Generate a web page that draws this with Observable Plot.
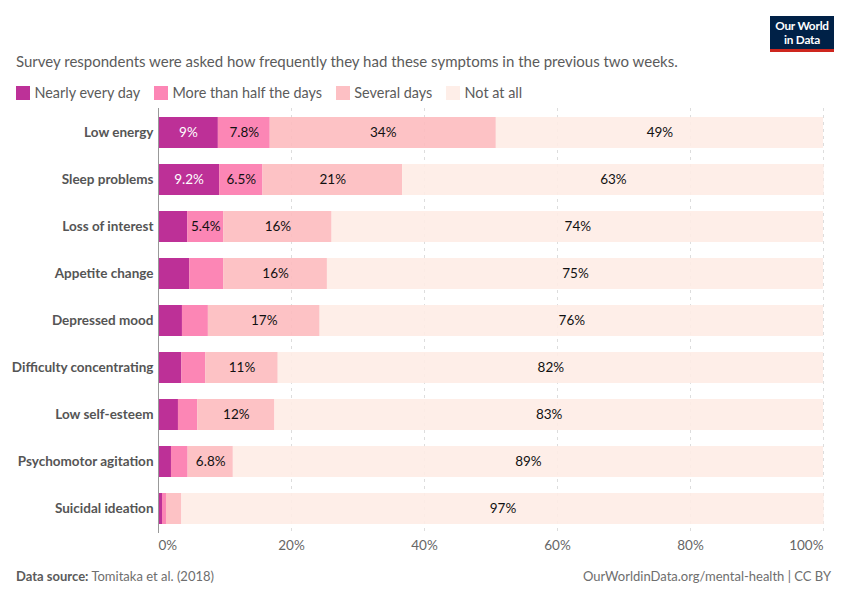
<!DOCTYPE html>
<html>
<head>
<meta charset="utf-8">
<script src="https://cdn.jsdelivr.net/npm/d3@7"></script>
<script src="https://cdn.jsdelivr.net/npm/@observablehq/plot@0.6"></script>
<style>
  body { margin: 0; background: #fff; font-family: Lato, sans-serif; width: 850px; height: 600px; position: relative; overflow: hidden; }
  #chart { position: absolute; left: 0; top: 100px; }
  #chart svg { font-family: Lato, sans-serif; }
  .logo { position: absolute; left: 770px; top: 16px; width: 64px; height: 33px; background: #002147; border-bottom: 3px solid #ce261e; color: #fff; font-weight: 700; font-size: 11.8px; text-align: center; letter-spacing: -0.2px; }
  .logo div { position: absolute; left: 0; right: 0; line-height: 14px; height: 14px; }
  .sub { position: absolute; left: 16px; top: 51px; font-size: 15px; color: #5b5b5b; line-height: 20px; white-space: nowrap; }
  .legend { position: absolute; left: 16px; top: 83px; display: flex; font-size: 14.4px; color: #5b5b5b; line-height: 19px; white-space: nowrap; }
  .legend span.item { display: flex; align-items: center; margin-right: 13.8px; }
  .legend i { display: inline-block; width: 14px; height: 14px; margin-right: 4.5px; }
  .foot { position: absolute; top: 568px; font-size: 13px; color: #6e6e6e; line-height: 17px; white-space: nowrap; }
</style>
</head>
<body>
<div class="logo"><div style="top:3px">Our World</div><div style="top:17px">in Data</div></div>
<div class="sub">Survey respondents were asked how frequently they had these symptoms in the previous two weeks.</div>
<div class="legend" id="legend"></div>
<div id="chart"></div>
<div class="foot" style="left:16px"><b style="color:#5b5b5b">Data source:</b> Tomitaka et al. (2018)</div>
<div class="foot" style="right:19px">OurWorldinData.org/mental-health | CC BY</div>
<script>
const symptoms = ["Low energy","Sleep problems","Loss of interest","Appetite change","Depressed mood","Difficulty concentrating","Low self-esteem","Psychomotor agitation","Suicidal ideation"];
const nearlyEveryDay = [9, 9.2, 4.4, 4.7, 3.6, 3.5, 3, 1.95, 0.6];
const moreThanHalf = [7.8, 6.5, 5.4, 5.1, 3.9, 3.6, 2.9, 2.5, 0.6];
const severalDays = [34, 21, 16.3, 15.6, 16.8, 10.9, 11.6, 6.8, 2.3];
const notAtAll = [49.2, 63.4, 73.9, 74.6, 75.7, 82, 82.5, 88.75, 96.6];

const responses = ["Nearly every day","More than half the days","Several days","Not at all"];
const seriesValues = [nearlyEveryDay, moreThanHalf, severalDays, notAtAll];
const colors = ["#B61A8C","#FC79AD","#FDBBBF","#FEECE5"];
const shownColors = ["#BD3198","#FC86B5","#FDC0C4","#FEEEE8"];
const xTicksMiddle = [20, 40, 60, 80];

const rows = seriesValues.flatMap((vals, i) =>
  vals.map((value, j) => ({symptom: symptoms[j], response: responses[i], value})));

const fmt = v => d3.format(".2~r")(v) + "%";
const stackOpts = {x: "value", y: "symptom", z: "response", order: responses};

const tickStyle = {tickSize: 0, tickPadding: 7, label: null, fontSize: 13.5, color: "#666"};

const chart = Plot.plot({
  width: 850, height: 460,
  marginLeft: 158, marginRight: 27, marginTop: 8, marginBottom: 27,
  style: {fontFamily: "Lato, sans-serif", background: "transparent", overflow: "visible"},
  x: {domain: [0, 100]},
  y: {domain: symptoms, paddingInner: 0.351, paddingOuter: 0.175, label: null},
  color: {domain: responses, range: colors},
  marks: [
    Plot.ruleX(xTicksMiddle.concat([100]), {stroke: "#dddddd", strokeDasharray: "3,4"}),
    Plot.barX(rows, Plot.stackX({...stackOpts, fill: "response", fillOpacity: 0.9})),
    Plot.ruleX([0], {stroke: "#999999"}),
    Plot.text(rows, Plot.stackX({
      ...stackOpts,
      text: d => d.value >= 5.2 ? fmt(d.value) : null,
      fill: d => d.response === responses[0] ? "#ffffff" : "#111111",
      fontSize: 13.5
    })),
    Plot.axisY({tickSize: 0, tickPadding: 5, label: null, fontSize: 13.5, fontWeight: 700, color: "#555555"}),
    Plot.axisX([0], {...tickStyle, textAnchor: "start", tickFormat: d => d + "%"}),
    Plot.axisX(xTicksMiddle, {...tickStyle, tickFormat: d => d + "%"}),
    Plot.axisX([100], {...tickStyle, textAnchor: "end", tickFormat: d => d + "%"})
  ]
});
document.getElementById("chart").appendChild(chart);

const legend = document.getElementById("legend");
responses.forEach((r, i) => {
  const s = document.createElement("span");
  s.className = "item";
  const sw = document.createElement("i");
  sw.style.background = shownColors[i];
  s.appendChild(sw);
  s.appendChild(document.createTextNode(r));
  legend.appendChild(s);
});
</script>
</body>
</html>
